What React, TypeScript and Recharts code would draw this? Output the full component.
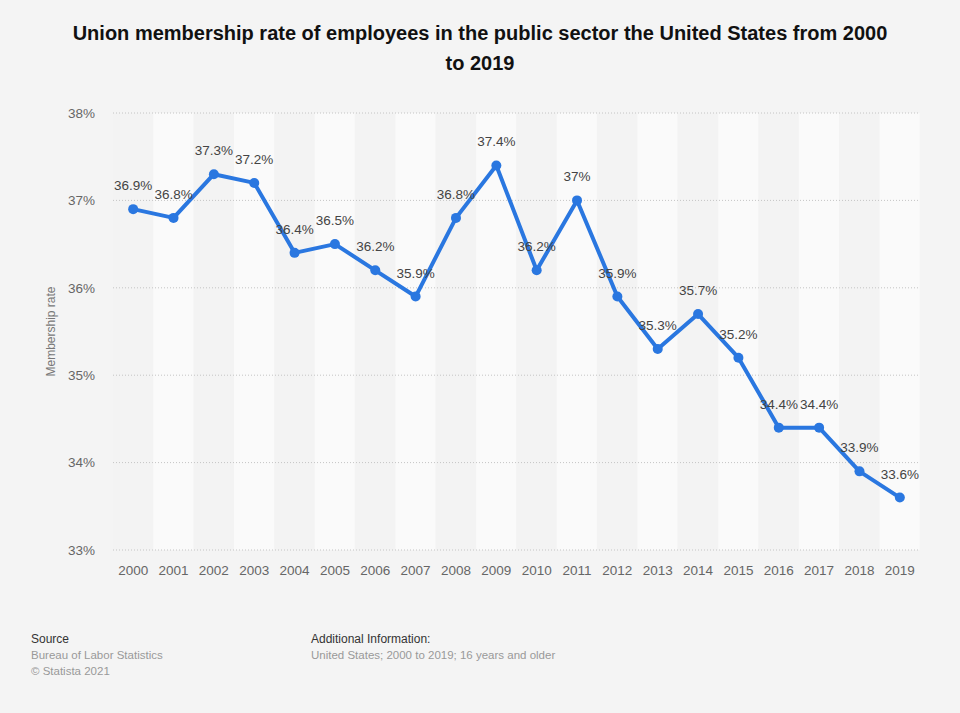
import { ComposedChart, Bar, Line, XAxis, YAxis, ReferenceLine, LabelList, Cell } from 'recharts';

const years = ['2000', '2001', '2002', '2003', '2004', '2005', '2006', '2007', '2008', '2009',
  '2010', '2011', '2012', '2013', '2014', '2015', '2016', '2017', '2018', '2019'];
const rates = [36.9, 36.8, 37.3, 37.2, 36.4, 36.5, 36.2, 35.9, 36.8, 37.4,
  36.2, 37, 35.9, 35.3, 35.7, 35.2, 34.4, 34.4, 33.9, 33.6];
const yTicks = [33, 34, 35, 36, 37, 38];

const yMin = yTicks[0];
const yMax = yTicks[yTicks.length - 1];

const data = years.map((year, i) => ({ year, rate: rates[i], band: yMax }));

const font = '"Liberation Sans", Arial, sans-serif';

export default function App() {
  return (
    <div style={{ position: 'absolute', left: 0, top: 0, width: 960, height: 713, background: '#f4f4f4', fontFamily: font }}>
      <div style={{ position: 'absolute', top: 18, left: 0, width: 960, textAlign: 'center', fontSize: 20, fontWeight: 'bold', lineHeight: '30px', color: '#111' }}>
        Union membership rate of employees in the public sector the United States from 2000<br />to 2019
      </div>
      <div style={{ position: 'absolute', top: 0, left: 0 }}>
        <ComposedChart width={960} height={600} data={data} barCategoryGap={0}
          margin={{ top: 113, right: 40, bottom: 20, left: 0 }}>
          <XAxis dataKey="year" axisLine={false} tickLine={false} tickMargin={9} height={30}
            tick={{ fill: '#666', fontSize: 13.5, fontFamily: font }} interval={0} />
          <YAxis domain={[yMin, yMax]} ticks={yTicks} axisLine={false} tickLine={false} tickSize={0}
            tickMargin={18} width={113} tickFormatter={(v) => `${v}%`}
            tick={{ fill: '#666', fontSize: 13.5, fontFamily: font }}
            label={{ value: 'Membership rate', angle: -90, position: 'center', dx: -6, fill: '#777', fontSize: 12, fontFamily: font }} />
          <Bar dataKey="band" isAnimationActive={false}>
            {data.map((d, i) => (
              <Cell key={d.year} fill={i % 2 === 0 ? '#f3f3f3' : '#fafafa'} />
            ))}
          </Bar>
          {yTicks.map((t) => (
            <ReferenceLine key={t} y={t} stroke="#c4c4c4" strokeDasharray="1 2" />
          ))}
          <Line dataKey="rate" stroke="#2a77e0" strokeWidth={4} isAnimationActive={false}
            dot={{ r: 5, fill: '#2a77e0', stroke: '#2a77e0', strokeWidth: 0 }} strokeLinejoin="round">
            <LabelList dataKey="rate" position="top" offset={19} formatter={(v: number) => `${v}%`}
              style={{ fill: '#444', fontSize: 13.5, fontFamily: font }} />
          </Line>
        </ComposedChart>
      </div>
      <div style={{ position: 'absolute', left: 31, top: 631, fontSize: 12, lineHeight: '16px', color: '#333' }}>
        Source
        <div style={{ color: '#999', fontSize: 11.5 }}>Bureau of Labor Statistics</div>
        <div style={{ color: '#999', fontSize: 11.5 }}>© Statista 2021</div>
      </div>
      <div style={{ position: 'absolute', left: 311, top: 631, fontSize: 12, lineHeight: '16px', color: '#333' }}>
        Additional Information:
        <div style={{ color: '#999', fontSize: 11.5 }}>United States; 2000 to 2019; 16 years and older</div>
      </div>
    </div>
  );
}
